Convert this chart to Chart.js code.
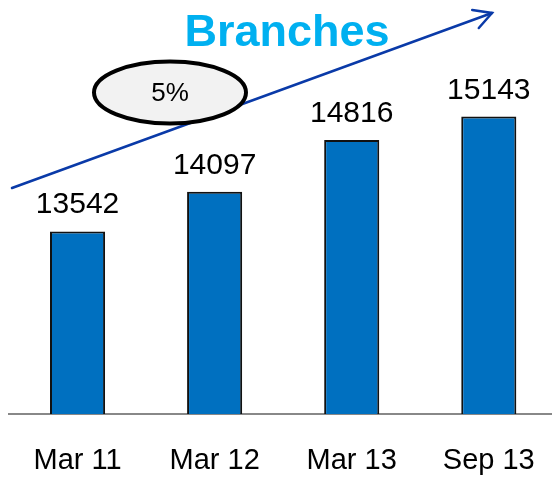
<!DOCTYPE html>
<html>
<head>
<meta charset="utf-8">
<script src="https://cdn.jsdelivr.net/npm/chart.js@4"></script>
<style>
    html, body { margin: 0; padding: 0; background: #fff; overflow: hidden; }
    #wrap { width: 552px; height: 481px; overflow: hidden; }
</style>
</head>
<body>
<div id="wrap"><canvas id="chart" width="565" height="481"></canvas></div>
<script>
const periods = ['Mar 11', 'Mar 12', 'Mar 13', 'Sep 13'];
const branches = [13542, 14097, 14816, 15143];
const titleText = 'Branches';
const growthText = '5%';

const FONT = '"Liberation Sans", Arial, sans-serif';

// value labels above each bar
const barLabels = {
    id: 'barLabels',
    afterDatasetsDraw(chart) {
        const ctx = chart.ctx;
        const meta = chart.getDatasetMeta(0);
        ctx.save();
        ctx.font = '30px ' + FONT;
        ctx.fillStyle = '#000';
        ctx.textAlign = 'center';
        ctx.textBaseline = 'alphabetic';
        meta.data.forEach((bar, i) => {
            ctx.fillText(String(branches[i]), bar.x, bar.y - 18);
        });
        ctx.restore();
    }
};

// title, trend arrow and growth bubble
const decorations = {
    id: 'decorations',
    afterDraw(chart) {
        const ctx = chart.ctx;
        ctx.save();

        ctx.font = 'bold 45px ' + FONT;
        ctx.fillStyle = '#00B0F0';
        ctx.textAlign = 'center';
        ctx.textBaseline = 'alphabetic';
        ctx.fillText(titleText, 287, 46);

        // arrow
        const x0 = 12, y0 = 188, x1 = 492, y1 = 13;
        ctx.strokeStyle = '#0A3AA8';
        ctx.lineWidth = 2.5;
        ctx.lineCap = 'round';
        ctx.beginPath();
        ctx.moveTo(x0, y0);
        ctx.lineTo(x1, y1);
        ctx.stroke();
        const ang = Math.atan2(y1 - y0, x1 - x0);
        const len = 20, spread = 0.5;
        ctx.beginPath();
        ctx.moveTo(x1 - len * Math.cos(ang - spread), y1 - len * Math.sin(ang - spread));
        ctx.lineTo(x1, y1);
        ctx.lineTo(x1 - len * Math.cos(ang + spread), y1 - len * Math.sin(ang + spread));
        ctx.stroke();

        // ellipse with growth
        ctx.beginPath();
        ctx.ellipse(170, 92.5, 76, 31, 0, 0, Math.PI * 2);
        ctx.fillStyle = '#F2F2F2';
        ctx.fill();
        ctx.lineWidth = 4;
        ctx.strokeStyle = '#000';
        ctx.stroke();

        ctx.font = '26px ' + FONT;
        ctx.fillStyle = '#000';
        ctx.textBaseline = 'middle';
        ctx.fillText(growthText, 170, 94);

        ctx.restore();
    }
};

new Chart(document.getElementById('chart'), {
    type: 'bar',
    data: {
        labels: periods,
        datasets: [{
            data: branches,
            backgroundColor: '#0070C0',
            borderColor: '#111',
            borderWidth: 2,
            barPercentage: 0.402,
            categoryPercentage: 1
        }]
    },
    options: {
        responsive: false,
        animation: false,
        events: [],
        layout: { padding: { top: 55, left: 9, right: 2, bottom: 0 } },
        plugins: {
            legend: { display: false },
            tooltip: { enabled: false },
            title: { display: false }
        },
        scales: {
            x: {
                grid: { display: true, color: 'rgba(0,0,0,0)', drawTicks: false },
                border: { display: true, color: '#888', width: 2 },
                ticks: {
                    color: '#000',
                    padding: 30,
                    font: { family: FONT, size: 29 }
                },
                afterFit(scale) { scale.height = 67; }
            },
            y: {
                display: false,
                min: 11000,
                max: 16000
            }
        }
    },
    plugins: [barLabels, decorations]
});
</script>
</body>
</html>
